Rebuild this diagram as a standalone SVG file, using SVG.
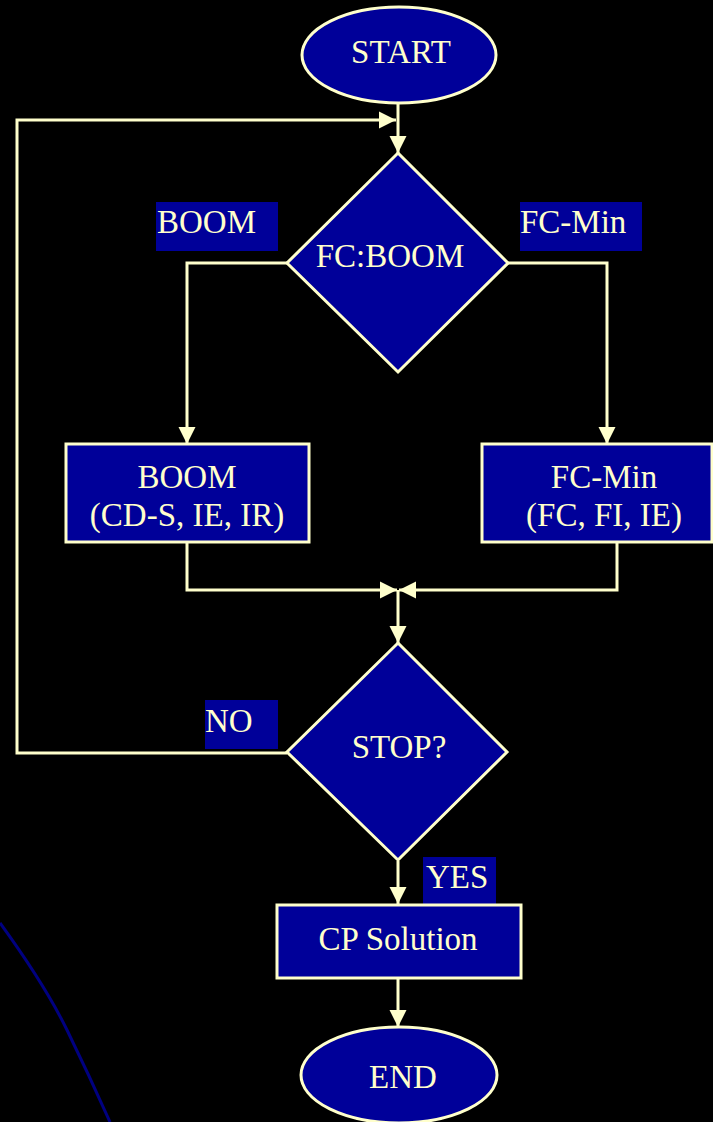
<svg xmlns="http://www.w3.org/2000/svg" width="713" height="1122" viewBox="0 0 713 1122">
<defs>
<style>
.shape{fill:#000099;stroke:#FFFFCC;stroke-width:3}
.lbl{fill:#000099}
.t{font-family:"Liberation Serif","Times New Roman",serif;font-size:33px;fill:#FFFFCC}
.c{text-anchor:middle}
.conn{fill:none;stroke:#FFFFCC;stroke-width:3;marker-end:url(#ah)}
</style>
<marker id="ah" markerUnits="userSpaceOnUse" markerWidth="18" markerHeight="18" viewBox="0 0 18 18" refX="17" refY="9" orient="auto">
<path d="M0,0.5 L17,9 L0,17.5 z" fill="#FFFFCC"/>
</marker>
</defs>
<rect width="713" height="1122" fill="#000000"/>
<path d="M0,923 Q45,985 67,1030 T110,1122" fill="none" stroke="#000080" stroke-width="3"/>
<g id="connectors">
<path class="conn" d="M398,104 L398,153"/>
<path class="conn" d="M287,753 L17,753 L17,120 L396,120"/>
<path class="conn" d="M287,263 L187,263 L187,444"/>
<path class="conn" d="M508,263 L607,263 L607,444"/>
<path class="conn" d="M187,542 L187,590 L397,590"/>
<path class="conn" d="M617,542 L617,590 L399,590"/>
<path class="conn" d="M398,590 L398,643"/>
<path class="conn" d="M398,861 L398,904"/>
<path class="conn" d="M398,978 L398,1027"/>
</g>
<g id="start">
<ellipse class="shape" cx="399" cy="55" rx="97" ry="48"/>
<text class="t c" x="401" y="63">START</text>
</g>
<g id="fcboom">
<polygon class="shape" points="398,153 508,263 398,372 287,263"/>
<text class="t c" x="390" y="267">FC:BOOM</text>
</g>
<g id="label-boom">
<rect class="lbl" x="156" y="202" width="122" height="49"/>
<text class="t" x="157" y="233">BOOM</text>
</g>
<g id="label-fcmin">
<rect class="lbl" x="520" y="202" width="122" height="49"/>
<text class="t" x="520" y="233">FC-Min</text>
</g>
<g id="boom">
<rect class="shape" x="66" y="444" width="243" height="98"/>
<text class="t c" x="187" y="488">BOOM</text>
<text class="t c" x="187" y="526">(CD-S, IE, IR)</text>
</g>
<g id="fcmin">
<rect class="shape" x="482" y="444" width="230" height="98"/>
<text class="t c" x="604" y="488">FC-Min</text>
<text class="t c" x="604" y="526">(FC, FI, IE)</text>
</g>
<g id="stop">
<polygon class="shape" points="398,643 507,752 398,860 287,752"/>
<text class="t c" x="399" y="758">STOP?</text>
</g>
<g id="label-no">
<rect class="lbl" x="205" y="700" width="73" height="49"/>
<text class="t" x="205" y="732">NO</text>
</g>
<g id="label-yes">
<rect class="lbl" x="423" y="857" width="73" height="48"/>
<text class="t" x="426" y="888">YES</text>
</g>
<g id="cp">
<rect class="shape" x="277" y="905" width="244" height="73"/>
<text class="t c" x="398" y="950">CP Solution</text>
</g>
<g id="end">
<ellipse class="shape" cx="399" cy="1075" rx="98" ry="48"/>
<text class="t c" x="403" y="1088">END</text>
</g>
</svg>
